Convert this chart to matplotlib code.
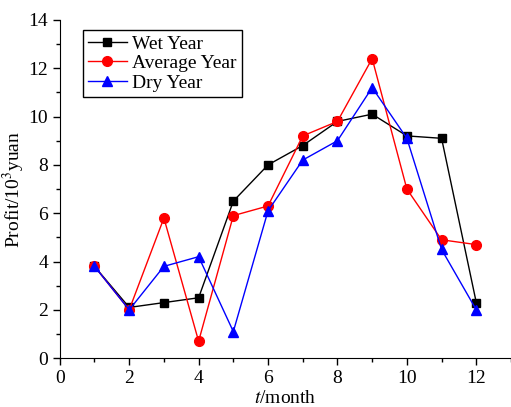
import matplotlib
matplotlib.use("Agg")
import matplotlib.pyplot as plt
from matplotlib.ticker import MultipleLocator

months = list(range(1, 13))
wet = [3.8, 2.1, 2.3, 2.5, 6.5, 8.0, 8.8, 9.8, 10.1, 9.2, 9.1, 2.3]
average = [3.8, 2.0, 5.8, 0.7, 5.9, 6.3, 9.2, 9.8, 12.4, 7.0, 4.9, 4.7]
dry = [3.8, 2.0, 3.8, 4.2, 1.1, 6.1, 8.2, 9.0, 11.2, 9.1, 4.5, 2.0]
labels = ["Wet Year", "Average Year", "Dry Year"]

plt.rcParams['font.family'] = ['Liberation Serif', 'DejaVu Serif']
plt.rcParams['mathtext.fontset'] = 'stix'

fig = plt.figure(figsize=(5.11, 4.07), dpi=100)
ax = fig.add_axes([0.117, 0.12, 0.883, 0.831])

ax.plot(months, wet, color='black', marker='s', markersize=6, lw=1, label=labels[0])
ax.plot(months, average, color='red', marker='o', markersize=7, lw=1, label=labels[1])
ax.plot(months, dry, color='blue', marker='^', markersize=7.5, lw=1, label=labels[2])

ax.set_xlim(0, 13)
ax.set_ylim(0, 14)
ax.xaxis.set_major_locator(MultipleLocator(2))
ax.xaxis.set_minor_locator(MultipleLocator(1))
ax.yaxis.set_major_locator(MultipleLocator(2))
ax.yaxis.set_minor_locator(MultipleLocator(1))
ax.spines['top'].set_visible(False)
ax.spines['right'].set_visible(False)
ax.tick_params(which='major', direction='out', length=5, width=1, labelsize=14)
ax.tick_params(which='minor', direction='out', length=3, width=1)

ax.set_xlabel('$t$/month', fontsize=14, labelpad=2)
ax.set_ylabel('Profit/10$^3$yuan', fontsize=14)
ax.yaxis.set_label_coords(-0.072, 0.5)

leg = ax.legend(loc='upper left', bbox_to_anchor=(0.051, 0.97), fontsize=14, frameon=True,
                fancybox=False, edgecolor='black', framealpha=1, borderpad=0.25,
                labelspacing=0.1, handlelength=2.0, handletextpad=0.3, borderaxespad=0)
leg.get_frame().set_linewidth(1)

fig.savefig('out.png', dpi=100)
